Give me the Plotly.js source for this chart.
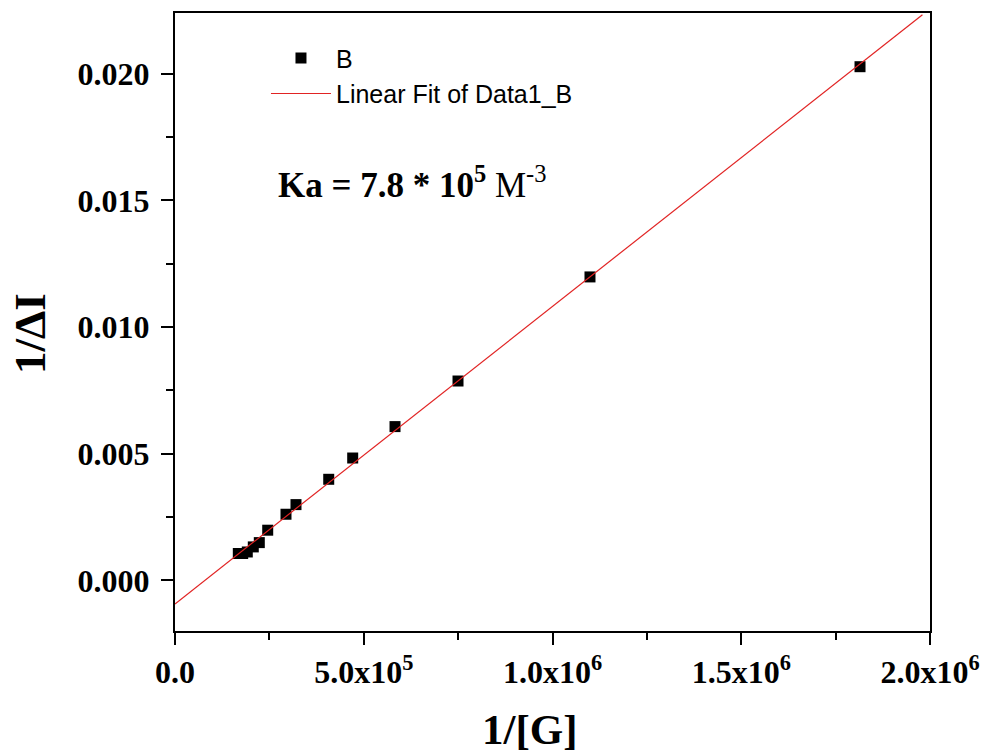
<!DOCTYPE html>
<html>
<head>
<meta charset="utf-8">
<script src="https://cdn.plot.ly/plotly-3.0.1.min.js"></script>
<style>html,body{margin:0;padding:0;background:#fff;}#chart{width:989px;height:755px;}</style>
</head>
<body>
<div id="chart"></div>
<script>
// 1/[G] values (x) and 1/ΔI values (y)
const invG = [167700, 179300, 191500, 207400, 223300, 245600, 294000, 320500, 407200, 470700, 582800, 749700, 1099300, 1814600];
const invDI = [0.00106, 0.00106, 0.00112, 0.00132, 0.00149, 0.00198, 0.00261, 0.00299, 0.00399, 0.00483, 0.00607, 0.00787, 0.01198, 0.02028];
const seriesName = 'B';
const fitName = 'Linear Fit of Data1_B';
const fitRange = [0, 1980000];
const xTickVals = [0, 500000, 1000000, 1500000, 2000000];
const xTickText = ['0.0', '5.0x10<sup>5</sup>', '1.0x10<sup>6</sup>', '1.5x10<sup>6</sup>', '2.0x10<sup>6</sup>'];
const yTickVals = [0, 0.005, 0.010, 0.015, 0.020];
const yTickText = ['0.000', '0.005', '0.010', '0.015', '0.020'];

// least squares fit
const n = invG.length;
const mx = invG.reduce((a, b) => a + b, 0) / n;
const my = invDI.reduce((a, b) => a + b, 0) / n;
let sxy = 0, sxx = 0;
for (let i = 0; i < n; i++) { sxy += (invG[i] - mx) * (invDI[i] - my); sxx += (invG[i] - mx) ** 2; }
const slope = sxy / sxx;
const intercept = my - slope * mx;
const fitX = fitRange;
const fitY = fitRange.map(v => intercept + slope * v);

const serif = 'Liberation Serif, Times New Roman, serif';
const sans = 'Liberation Sans, Arial, sans-serif';

const traces = [
  {x: invG, y: invDI, type: 'scatter', mode: 'markers', name: seriesName,
   marker: {symbol: 'square', size: 11, color: '#000'}},
  {x: fitX, y: fitY, type: 'scatter', mode: 'lines', name: fitName,
   line: {color: 'rgb(225,35,35)', width: 1.2}}
];

const axisCommon = {
  showgrid: false, zeroline: false, showline: true, linecolor: '#000', linewidth: 2,
  mirror: true, ticks: 'outside', ticklen: 12, tickwidth: 2, tickcolor: '#000',
  tickfont: {family: serif, size: 32, color: '#000', weight: 'bold'}
};

const layout = {
  width: 989, height: 755,
  margin: {l: 175, r: 59, t: 13, b: 124},
  paper_bgcolor: '#fff', plot_bgcolor: '#fff',
  showlegend: true,
  legend: {x: 0.1205, y: 0.964, xanchor: 'left', yanchor: 'top', bgcolor: 'rgba(0,0,0,0)',
           font: {family: sans, size: 25, color: '#000'}, itemwidth: 60, tracegroupgap: 0},
  xaxis: Object.assign({}, axisCommon, {
    range: [0, 2000000], tickmode: 'array', tickvals: xTickVals, ticktext: xTickText,
    minor: {dtick: 250000, ticklen: 7, tickwidth: 2, tickcolor: '#000', ticks: 'outside'}
  }),
  yaxis: Object.assign({}, axisCommon, {
    range: [-0.002, 0.0224], tickmode: 'array', tickvals: yTickVals, ticktext: yTickText,
    ticklabelstandoff: 5,
    minor: {dtick: 0.0025, ticklen: 7, tickwidth: 2, tickcolor: '#000', ticks: 'outside'}
  }),
  annotations: [
    {text: '<b>Ka = 7.8 * 10<sup>5</sup></b> M<sup>-3</sup>', xref: 'paper', yref: 'paper',
     x: (276 - 175) / 755, y: (631 - 183) / 618, xanchor: 'left', yanchor: 'middle', showarrow: false,
     font: {family: serif, size: 35, color: '#000'}},
    {text: '<b>1/[G]</b>', xref: 'paper', yref: 'paper', x: (530 - 175) / 755, y: (631 - 729) / 618,
     xanchor: 'center', yanchor: 'middle', showarrow: false, font: {family: serif, size: 43, color: '#000'}},
    {text: '<b>1/ΔI</b>', xref: 'paper', yref: 'paper', x: (30 - 175) / 755, y: (631 - 334) / 618,
     xanchor: 'center', yanchor: 'middle', showarrow: false, textangle: -90,
     font: {family: serif, size: 45, color: '#000'}}
  ]
};

Plotly.newPlot('chart', traces, layout, {displayModeBar: false, staticPlot: true});
</script>
</body>
</html>
